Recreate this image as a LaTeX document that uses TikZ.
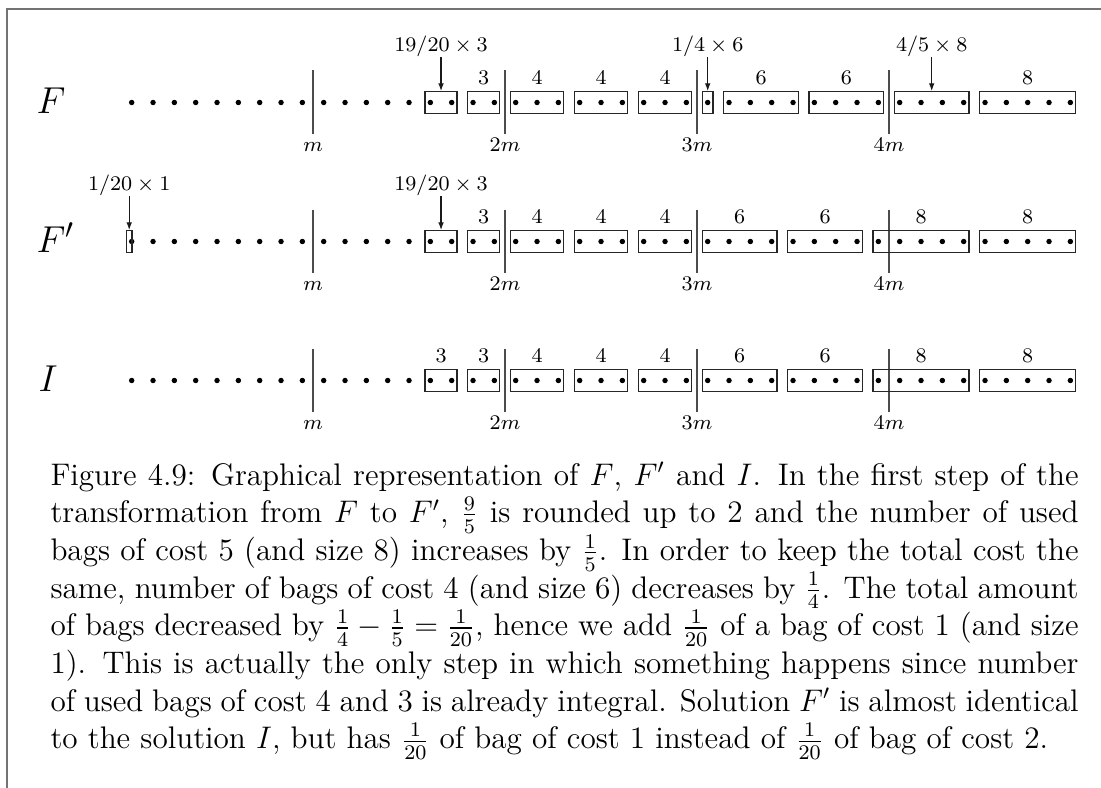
\documentclass[tikz,border=0pt]{standalone}
\usetikzlibrary{arrows.meta,fit,positioning,calc}
\begin{document}
\begin{tikzpicture}[x=0.3846pt,y=-0.3846pt,
  dot/.style={circle,fill=black,inner sep=0pt,outer sep=0pt,minimum size=2.1pt},
  bag/.style={draw=black!85,line width=0.45pt,inner xsep=1.0pt,inner ysep=3.1pt},
  vline/.style={draw=black!70,line width=0.45pt},
  nlab/.style={inner sep=0pt,font=\footnotesize},
  alab/.style={inner sep=0pt,font=\footnotesize},
  mlab/.style={inner sep=0pt,font=\footnotesize},
  rlab/.style={inner sep=0pt,font=\fontsize{15}{18}\selectfont},
  arr/.style={-{Latex[length=3pt,width=2.2pt]},draw=black!90,line width=0.5pt},
  frame/.style={draw=black!55,line width=0.7pt}]
\useasboundingbox (0,0) rectangle (1101,788);
\coordinate (fa) at (7,788);
\coordinate (fb) at (7,9);
\coordinate (fc) at (1101,9);
\draw[frame] (fa) -- (fb) -- (fc);
% rows
\foreach \r/\y in {0/102.5,1/241.5,2/380.5}{
  \foreach \i in {0,...,44}{
    \node[dot] (d\r-\i) at ({131.7+21.333*\i},\y) {};
  }
  \foreach \k/\lab in {1/m,2/2m,3/3m,4/4m}{
    \pgfmathsetmacro\xx{131.7+21.333*(9*\k-0.5)}
    \coordinate (v\r-\k a) at (\xx,{\y-32});
    \coordinate (v\r-\k b) at (\xx,{\y+31.5});
    \draw[vline] (v\r-\k a) -- (v\r-\k b);
    \node[mlab,anchor=base] (ml\r-\k) at ([yshift=-6.6pt]v\r-\k b) {$\lab$};
  }
}
% row labels
\node[rlab,anchor=base west] (F) at (36,113.5) {$F$};
\node[rlab,anchor=base west] (Fp) at (36,252.5) {$F'$};
\node[rlab,anchor=base west] (I) at (38,391.5) {$I$};
% bags with number labels
\foreach \r/\a/\b/\t in {0/16/17/3,0/18/20/4,0/21/23/4,0/24/26/4,0/28/31/6,0/32/35/6,0/40/44/8,
  1/16/17/3,1/18/20/4,1/21/23/4,1/24/26/4,1/27/30/6,1/31/34/6,1/35/39/8,1/40/44/8,
  2/14/15/3,2/16/17/3,2/18/20/4,2/21/23/4,2/24/26/4,2/27/30/6,2/31/34/6,2/35/39/8,2/40/44/8}{
  \node[bag,fit=(d\r-\a)(d\r-\b)] (b\r-\a) {};
  \node[nlab,above=2.4pt of b\r-\a] (n\r-\a) {$\t$};
}
% bags with arrows
\node[bag,fit=(d0-14)(d0-15)] (b0-14) {};
\node[alab,anchor=base] (a0-14) at ($(b0-14.north)+(0,-40)$) {$19/20\times 3$};
\draw[arr] (a0-14.south) -- (b0-14.north);
\node[bag,fit=(d0-27)] (b0-27) {};
\node[alab,anchor=base] (a0-27) at ($(b0-27.north)+(0,-40)$) {$1/4\times 6$};
\draw[arr] (a0-27.south) -- (b0-27.north);
\node[bag,fit=(d0-36)(d0-39)] (b0-36) {};
\node[alab,anchor=base] (a0-36) at ($(b0-36.north)+(0,-40)$) {$4/5\times 8$};
\draw[arr] (a0-36.south) -- (b0-36.north);
\node[bag,fit=(d1-14)(d1-15)] (b1-14) {};
\node[alab,anchor=base] (a1-14) at ($(b1-14.north)+(0,-40)$) {$19/20\times 3$};
\draw[arr] (a1-14.south) -- (b1-14.north);
\coordinate (t1) at (126.4,230.7);
\coordinate (t2) at (132.0,252.3);
\node[draw=black!85,line width=0.45pt,inner sep=0pt,fit=(t1)(t2)] (b1-0) {};
\node[alab,anchor=base] (a1-0) at ($(b1-0.north)+(0,-40)$) {$1/20\times 1$};
\draw[arr] (a1-0.south) -- (b1-0.north);
% caption
\node[anchor=base west,inner sep=0pt,text width=395.4pt,align=justify,
  font=\fontsize{12}{14.5}\selectfont] (cap) at (50,485) {Figure 4.9: Graphical representation of $F$, $F'$ and $I$. In the first step of the\linebreak
transformation from $F$ to $F'$, $\frac{9}{5}$ is rounded up to 2 and the number of used\linebreak
bags of cost 5 (and size 8) increases by $\frac{1}{5}$. In order to keep the total cost the\linebreak
same, number of bags of cost 4 (and size 6) decreases by $\frac{1}{4}$. The total amount\linebreak
of bags decreased by $\frac{1}{4}-\frac{1}{5}=\frac{1}{20}$, hence we add $\frac{1}{20}$ of a bag of cost 1 (and size\linebreak
1). This is actually the only step in which something happens since number\linebreak
of used bags of cost 4 and 3 is already integral. Solution $F'$ is almost identical\linebreak
to the solution $I$, but has $\frac{1}{20}$ of bag of cost 1 instead of $\frac{1}{20}$ of bag of cost 2.};
\end{tikzpicture}
\end{document}
